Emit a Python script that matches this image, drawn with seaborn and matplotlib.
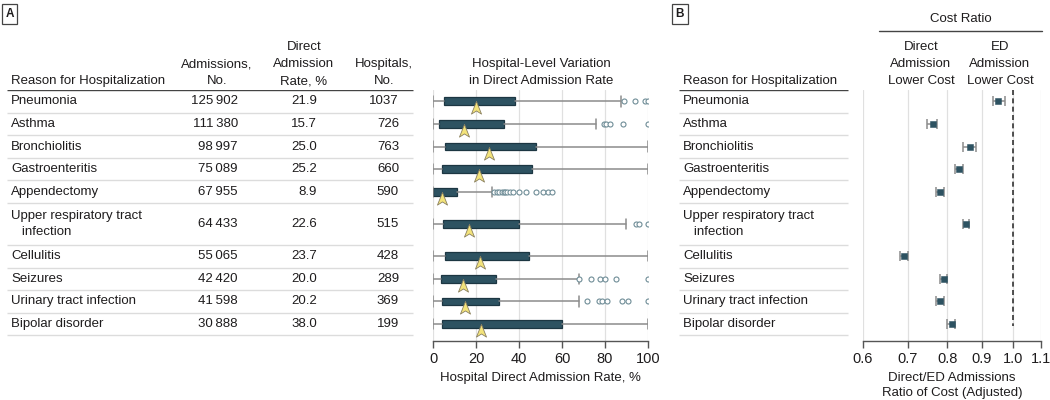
import matplotlib
matplotlib.use("Agg")
import matplotlib.pyplot as plt
from matplotlib.lines import Line2D
from matplotlib.ticker import NullLocator, FixedLocator, FixedFormatter
import numpy as np
import pandas as pd
import seaborn as sns

# table values
reasons = ["Pneumonia", "Asthma", "Bronchiolitis", "Gastroenteritis", "Appendectomy",
           "Upper respiratory tract\n   infection", "Cellulitis", "Seizures",
           "Urinary tract infection", "Bipolar disorder"]
admissions = [125902, 111380, 98997, 75089, 67955, 64433, 55065, 42420, 41598, 30888]
direct_rate = [21.9, 15.7, 25.0, 25.2, 8.9, 22.6, 23.7, 20.0, 20.2, 38.0]
hospitals = [1037, 726, 763, 660, 590, 515, 428, 289, 369, 199]

# hospital-level distribution
q1 = [5.1, 2.8, 5.6, 4.2, 0.0, 4.6, 5.6, 3.6, 4.2, 4.2]
q3 = [38.0, 32.9, 47.8, 45.9, 11.0, 40.2, 44.7, 29.5, 30.9, 60.1]
hosp_median = [19.9, 14.6, 25.9, 21.6, 4.0, 16.9, 21.9, 14.1, 14.9, 22.4]
whis_lo = [0, 0, 0, 0, 0, 0, 0, 0, 0, 0]
whis_hi = [87.5, 75.7, 100, 100, 27.4, 89.9, 100, 67.8, 68.1, 100]
outliers = [
    [88.8, 94.0, 98.6, 100],
    [79.4, 80.5, 82.5, 88.4, 100],
    [],
    [],
    [28.4, 29.6, 30.5, 32.1, 33.0, 33.4, 34.6, 35.8, 37.4, 40.0, 43.3, 48.1, 51.3, 53.6, 55.5],
    [94.4, 95.7, 100],
    [],
    [68.0, 73.3, 77.7, 80.2, 85.0, 100],
    [71.5, 77.1, 78.6, 80.9, 88.0, 90.7, 100],
    [],
]

# cost ratio (direct / ED), adjusted
cost_ratio = [0.952, 0.761, 0.863, 0.831, 0.780, 0.852, 0.691, 0.792, 0.780, 0.813]
cost_lo = [0.933, 0.747, 0.844, 0.820, 0.770, 0.844, 0.681, 0.781, 0.770, 0.800]
cost_hi = [0.974, 0.772, 0.883, 0.843, 0.792, 0.861, 0.701, 0.800, 0.792, 0.822]
cost_ticks = [0.6, 0.7, 0.8, 0.9, 1.0, 1.1]

row_height = [1, 1, 1, 1, 1, 1.85, 1, 1, 1, 1]

sns.set_theme(style="white")
plt.rcParams['font.family'] = ['Liberation Sans', 'DejaVu Sans']

TXT = "#1e1c1d"
TEAL = "#2d5261"
GRID = "#e0e0e0"
FS = 9.5
LS = 1.55

bounds = np.cumsum(row_height)
centers = bounds - np.array(row_height) / 2
df = pd.DataFrame({"reason": reasons, "median": hosp_median, "y": centers,
                   "ratio": cost_ratio, "lo": cost_lo, "hi": cost_hi})

W, H = 1050, 400
fig = plt.figure(figsize=(10.5, 4), dpi=100)
top_px, bot_px = 90, 341
ylim = (11.1, 0)


def fx(px):
    return px / W


def fy(py):
    return 1 - py / H


ax_bg = fig.add_axes([0, fy(bot_px), 1, (bot_px - top_px) / H])
ax_bg.set_xlim(0, W)
ax_bg.set_ylim(*ylim)
ax_bg.axis("off")

ax_box = fig.add_axes([fx(433), fy(bot_px), 215 / W, (bot_px - top_px) / H])
ax_cost = fig.add_axes([fx(862.7), fy(bot_px), 178.3 / W, (bot_px - top_px) / H])

# ---- tables ----
for x0, x1 in [(7, 413), (679, 848)]:
    ax_bg.hlines(0, x0, x1, color="#444444", lw=1.0)
    ax_bg.hlines(bounds, x0, x1, color="#dcdcdc", lw=1.0)

for i, row in df.iterrows():
    y = row["y"]
    for x in (11, 683):
        ax_bg.text(x, y, row["reason"], ha="left", va="center", fontsize=FS, color=TXT,
                   linespacing=1.45)
    ax_bg.text(238, y, f"{admissions[i]:,}".replace(",", "\u2009"), ha="right",
               va="center", fontsize=FS, color=TXT)
    ax_bg.text(317, y, f"{direct_rate[i]:.1f}", ha="right", va="center", fontsize=FS, color=TXT)
    ax_bg.text(399, y, str(hospitals[i]), ha="right", va="center", fontsize=FS, color=TXT)

hdr_y = fy(87)
headers = [
    (11, "Reason for Hospitalization", "left"),
    (683, "Reason for Hospitalization", "left"),
    (217, "Admissions,\nNo.", "center"),
    (304, "Direct\nAdmission\nRate, %", "center"),
    (384, "Hospitals,\nNo.", "center"),
    (541, "Hospital-Level Variation\nin Direct Admission Rate", "center"),
    (921, "Direct\nAdmission\nLower Cost", "center"),
    (1000, "ED\nAdmission\nLower Cost", "center"),
]
for px, txt, ha in headers:
    fig.text(fx(px), hdr_y, txt, ha=ha, va="bottom", fontsize=FS, color=TXT, linespacing=LS)
fig.text(fx(961), fy(19), "Cost Ratio", ha="center", va="center", fontsize=FS, color=TXT)
fig.add_artist(Line2D([fx(879), fx(1042)], [fy(31), fy(31)], transform=fig.transFigure,
                      color="#444444", lw=1.0))

for lab, px in [("A", 9.5), ("B", 680)]:
    fig.text(fx(px), fy(14), lab, ha="center", va="center", fontsize=8.5, fontweight="bold",
             color=TXT, bbox=dict(boxstyle="square,pad=0.3", fc="white", ec="#444444", lw=0.9))

# ---- panel A box plot ----
stats = []
for i in range(len(reasons)):
    stats.append(dict(whislo=whis_lo[i], q1=q1[i], med=q1[i], q3=q3[i],
                      whishi=whis_hi[i], fliers=outliers[i]))
ax_box.bxp(stats, positions=centers, orientation="horizontal", widths=0.34,
           capwidths=0.46, patch_artist=True, showfliers=True,
           boxprops=dict(facecolor=TEAL, edgecolor="#1c3642", lw=0.9),
           medianprops=dict(lw=0),
           whiskerprops=dict(color="#8c8c8c", lw=1.1),
           capprops=dict(color="#8c8c8c", lw=1.1),
           flierprops=dict(marker="o", markerfacecolor="white", markeredgecolor="#6f8d97",
                           markersize=3.6, markeredgewidth=0.8))

arrow = [(0, 0), (0.8, -2.0), (0, -1.5), (-0.8, -2.0), (0, 0)]
sns.scatterplot(data=df, x="median", y="y", ax=ax_box, marker=arrow, s=330,
                color="#f3e37a", edgecolor="#8a8060", linewidth=0.6, zorder=5, legend=False)

ax_box.set_xlim(0, 100)
ax_box.set_ylim(*ylim)
ax_box.set_xticks([0, 20, 40, 60, 80, 100])
ax_box.set_yticks([])
ax_box.grid(axis="x", color=GRID, lw=0.9)
ax_box.set_axisbelow(True)
ax_box.set_xlabel("Hospital Direct Admission Rate, %", fontsize=FS, color=TXT, labelpad=4)
ax_box.set_ylabel("")

# ---- panel B forest plot ----
ax_cost.set_xscale("log")
ax_cost.errorbar(df["ratio"], df["y"], xerr=[df["ratio"] - df["lo"], df["hi"] - df["ratio"]],
                 fmt="none", ecolor="#8c8c8c", elinewidth=1.1, capsize=3.4, capthick=1.1, zorder=3)
sns.scatterplot(data=df, x="ratio", y="y", ax=ax_cost, marker="s", s=22, color=TEAL,
                edgecolor=TEAL, zorder=4, legend=False)
ax_cost.vlines(1.0, 0, bounds[-1] - 0.4, color="#333333", lw=1.2, linestyles=(0, (3, 2)), zorder=2)
ax_cost.set_xlim(0.6, 1.1)
ax_cost.set_ylim(*ylim)
ax_cost.xaxis.set_major_locator(FixedLocator(cost_ticks))
ax_cost.xaxis.set_major_formatter(FixedFormatter([f"{t:.1f}" for t in cost_ticks]))
ax_cost.xaxis.set_minor_locator(NullLocator())
ax_cost.set_yticks([])
ax_cost.grid(axis="x", color=GRID, lw=0.9)
ax_cost.set_axisbelow(True)
ax_cost.set_xlabel("Direct/ED Admissions\nRatio of Cost (Adjusted)", fontsize=FS, color=TXT,
                   labelpad=4, linespacing=1.35)
ax_cost.set_ylabel("")

for ax in (ax_box, ax_cost):
    for side in ("left", "right", "top"):
        ax.spines[side].set_visible(False)
    ax.spines["bottom"].set_color("#555555")
    ax.spines["bottom"].set_linewidth(1.0)
    ax.tick_params(axis="x", bottom=True, length=5, width=1.0, color="#555555",
                   labelsize=10.5, labelcolor=TXT, pad=3)
    ax.set_facecolor("none")

fig.savefig("out.png", dpi=100)
